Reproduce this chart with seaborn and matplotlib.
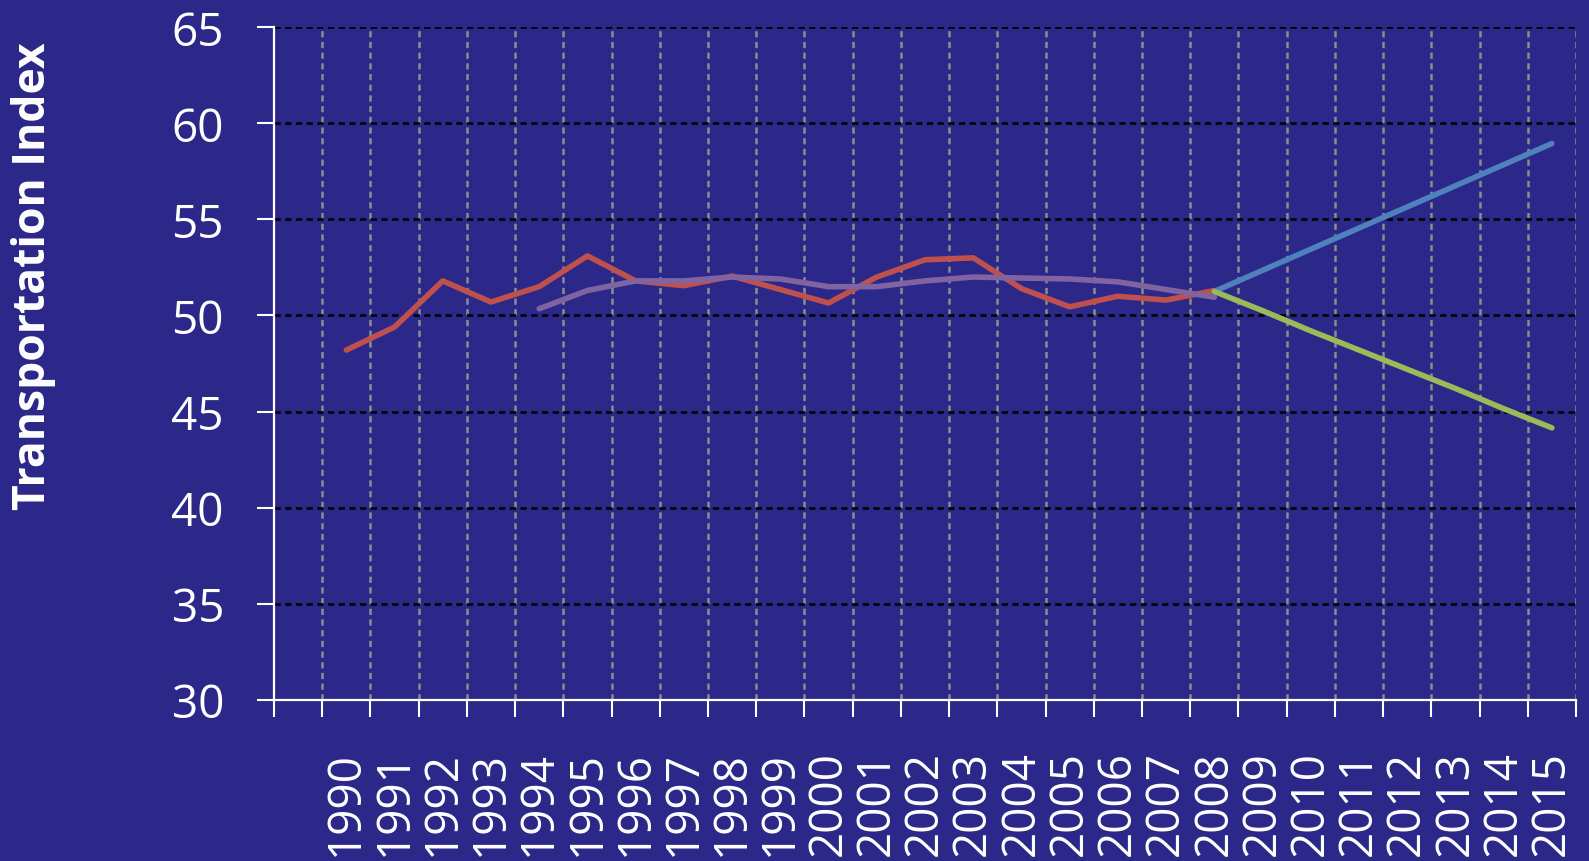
import numpy as np
import pandas as pd
import matplotlib
matplotlib.use("Agg")
import matplotlib.pyplot as plt
import seaborn as sns

years = list(range(1990, 2016))

red_years = list(range(1990, 2009))
red_vals = [48.2, 49.4, 51.8, 50.7, 51.5, 53.1, 51.8, 51.55, 52.05,
            51.35, 50.65, 52.0, 52.9, 53.0, 51.4, 50.45, 51.0, 50.8, 51.3]

purple_years = list(range(1994, 2009))
purple_vals = [50.35, 51.3, 51.8, 51.8, 52.0, 51.9, 51.5, 51.5, 51.8,
               52.0, 51.95, 51.9, 51.75, 51.35, 50.95]

blue_years = list(range(2008, 2016))
blue_vals = [51.25, 52.35, 53.45, 54.55, 55.65, 56.75, 57.85, 58.95]

green_years = list(range(2008, 2016))
green_vals = [51.25, 50.25, 49.2, 48.2, 47.2, 46.2, 45.15, 44.15]

series_names = ["red", "purple", "blue", "green"]
series_colors = ["#C0504D", "#8064A2", "#4F81BD", "#9BBB59"]

y_ticks = [30, 35, 40, 45, 50, 55, 60, 65]
y_label = "Transportation Index"

BG = "#2B2889"

sns.set_theme(style="white")
plt.rcParams["font.family"] = ["Open Sans", "DejaVu Sans"]
plt.rcParams["lines.scale_dashes"] = False

frames = []
for name, yrs, vals in [("red", red_years, red_vals),
                        ("purple", purple_years, purple_vals),
                        ("blue", blue_years, blue_vals),
                        ("green", green_years, green_vals)]:
    frames.append(pd.DataFrame({"year": yrs, "value": vals, "series": name}))
df = pd.concat(frames, ignore_index=True)
# position on the category axis: one empty slot before 1990
df["pos"] = df["year"] - years[0] + 1

fig = plt.figure(figsize=(15.89, 8.62), dpi=100, facecolor=BG)
ax = fig.add_axes([274/1589, 1 - 700.7/862, (1576-274)/1589, (700.7-28.3)/862])
ax.set_facecolor(BG)

sns.lineplot(data=df, x="pos", y="value", hue="series",
             hue_order=series_names, palette=dict(zip(series_names, series_colors)),
             estimator=None, sort=False, linewidth=4.0, legend=False, ax=ax,
             solid_capstyle="round", solid_joinstyle="round")

n = len(years) + 1
ax.set_xlim(-0.5, n - 0.5)
ax.set_ylim(30, 65)

# vertical category gridlines at boundaries
bounds = np.arange(0.5, n, 1.0)
for b in bounds:
    ax.axvline(b, color="#8C8C8C", lw=1.8, dashes=(4.5, 3.2), zorder=0)
for yv in y_ticks[1:]:
    ax.axhline(yv, color="black", lw=1.9, dashes=(4.5, 3.2), zorder=0.5)

ax.set_xticks(np.concatenate([[-0.5], bounds]))
ax.set_xticklabels([])
ax.set_xticks(np.arange(1, n), minor=True)
ax.set_xticklabels([str(y) for y in years], minor=True, rotation=90,
                   color="white", fontsize=33)
ax.tick_params(axis="x", which="major", direction="out", length=12,
               width=1.5, color="white", bottom=True)
ax.tick_params(axis="x", which="minor", length=0, pad=36, bottom=True)

ax.set_yticks(y_ticks)
ax.set_yticklabels([str(v) for v in y_ticks], color="white", fontsize=33)
ax.tick_params(axis="y", direction="out", length=12, width=1.5,
               color="white", pad=24, left=True)

for s in ["top", "right"]:
    ax.spines[s].set_visible(False)
for s in ["left", "bottom"]:
    ax.spines[s].set_color("white")
    ax.spines[s].set_linewidth(1.6)

ax.set_xlabel("")
ax.set_ylabel("")
fig.text(34/1589, 1 - 276/862, y_label, rotation=90, color="white",
         fontsize=32, fontweight="bold", ha="center", va="center")

fig.savefig("out.png", dpi=100, facecolor=BG)
